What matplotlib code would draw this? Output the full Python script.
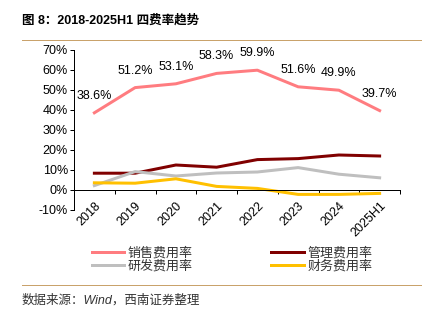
import numpy as np
import matplotlib.pyplot as plt
from matplotlib.lines import Line2D

plt.rcParams['font.family'] = ['Liberation Sans', 'Noto Sans CJK SC', 'DejaVu Sans']

years = ["2018", "2019", "2020", "2021", "2022", "2023", "2024", "2025H1"]
sales = [38.6, 51.2, 53.1, 58.3, 59.9, 51.6, 49.9, 39.7]
admin = [8.4, 8.4, 12.5, 11.4, 15.2, 15.7, 17.5, 17.0]
rnd = [2.2, 9.2, 7.0, 8.5, 9.0, 11.2, 7.9, 6.1]
finance = [3.6, 3.4, 5.6, 1.8, 0.8, -2.2, -2.2, -1.7]

fig = plt.figure(figsize=(6, 4.5), dpi=72)
ax = fig.add_axes([74/432, 1-210/324, 326/432, 160/324])

x = np.arange(len(years))
l1, = ax.plot(x, sales, color="#FF7C80", lw=3, label="销售费用率")
l2, = ax.plot(x, admin, color="#800000", lw=3, label="管理费用率")
l3, = ax.plot(x, rnd, color="#BFBFBF", lw=3, label="研发费用率")
l4, = ax.plot(x, finance, color="#FFC000", lw=3, label="财务费用率")

for i, v in enumerate(sales):
    ax.annotate("%.1f%%" % v, (i, v), xytext=(0, 11), textcoords="offset points",
                ha="center", va="bottom", fontsize=12.5)

ax.set_xlim(-0.5, 7.5)
ax.set_ylim(-10, 70)
ax.set_yticks(range(-10, 71, 10))
ax.set_yticklabels(["%d%%" % t for t in range(-10, 71, 10)], fontsize=12.5)
ax.tick_params(axis="y", length=4, width=1, pad=2)

ax.spines["top"].set_visible(False)
ax.spines["right"].set_visible(False)
ax.spines["bottom"].set_position(("data", 0))
ax.spines["left"].set_linewidth(1)
ax.spines["bottom"].set_linewidth(1)

ax.set_xticks(x)
ax.set_xticklabels(years, rotation=45, ha="right", rotation_mode="anchor", fontsize=12.5)
ax.tick_params(axis="x", which="major", length=0, pad=10)
ax.set_xticks(np.arange(0.5, 8, 1), minor=True)
ax.tick_params(axis="x", which="minor", length=4, width=1)

fig.legend([l1, l3, l2, l4], [l1.get_label(), l3.get_label(), l2.get_label(), l4.get_label()],
           loc="center", bbox_to_anchor=(232/432, 1-260/324), ncol=2, frameon=False,
           fontsize=13, handlelength=2.5, handletextpad=0.3, columnspacing=6.0,
           labelspacing=0.05, borderpad=0, labelcolor="#333333")

fig.text(22/432, 1-20/324, "图 8：2018-2025H1 四费率趋势", fontsize=12.5, fontweight="bold",
         va="center", ha="left")
fig.add_artist(Line2D([22/432, 421/432], [1-40/324, 1-40/324], color="#C9A26B", lw=1))
fig.add_artist(Line2D([22/432, 421/432], [1-285/324, 1-285/324], color="#C9A26B", lw=1))
fig.text(22/432, 1-300/324, "数据来源：Wind，西南证券整理", fontsize=12.5, style="italic",
         va="center", ha="left", color="#333333")

fig.savefig("out.png", dpi=72)
